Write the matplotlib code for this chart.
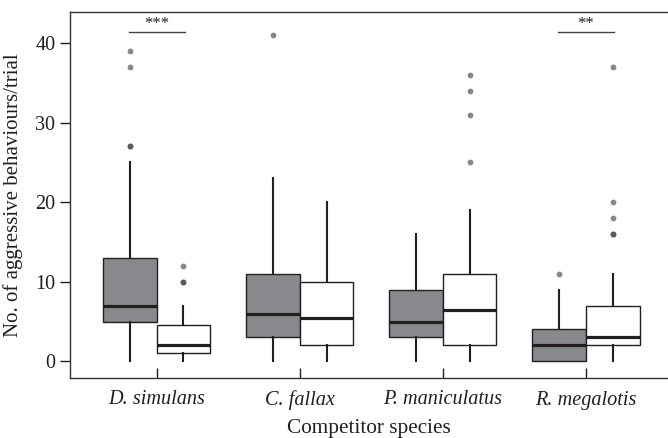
import numpy as np
import matplotlib.pyplot as plt

plt.rcParams['font.family'] = ['Liberation Serif', 'DejaVu Serif']

# species and summary statistics
species = ['D. simulans', 'C. fallax', 'P. maniculatus', 'R. megalotis']

# grey boxes (first treatment)
grey_whislo = [0, 0, 0, 0]
grey_q1 = [5, 3, 3, 0]
grey_med = [7, 6, 5, 2]
grey_q3 = [13, 11, 9, 4]
grey_whishi = [25, 23, 16, 9]
grey_fliers = [[27, 27, 37, 39], [41], [], [11]]

# white boxes (second treatment)
white_whislo = [0, 0, 0, 0]
white_q1 = [1, 2, 2, 2]
white_med = [2, 5.5, 6.5, 3]
white_q3 = [4.5, 10, 11, 7]
white_whishi = [7, 20, 19, 11]
white_fliers = [[10, 10, 12], [], [25, 31, 34, 36], [16, 16, 18, 20, 37]]

# significance marks: (species index, label)
signif = [(0, '***'), (3, '**')]

line_col = '#231f20'
grey_fill = '#88898c'

def make_stats(lo, q1, med, q3, hi, fl):
    out = []
    for i in range(len(lo)):
        out.append(dict(whislo=lo[i], q1=q1[i], med=med[i], q3=q3[i],
                        whishi=hi[i], fliers=fl[i]))
    return out

fig = plt.figure(figsize=(6.68, 4.38), dpi=100)
ax = fig.add_axes([70 / 668, 1 - 378 / 438, 598 / 668, 366 / 438])

pos = np.arange(len(species))
off = 0.187
width = 0.374

common = dict(widths=width, patch_artist=True, showcaps=False,
              whiskerprops=dict(color=line_col, linewidth=1.5),
              medianprops=dict(color=line_col, linewidth=2.3),
              flierprops=dict(marker='o', markersize=4.2, markerfacecolor='#3f3f3f',
                              markeredgecolor='none', alpha=0.62))

ax.bxp(make_stats(grey_whislo, grey_q1, grey_med, grey_q3, grey_whishi, grey_fliers),
       positions=pos - off,
       boxprops=dict(facecolor=grey_fill, edgecolor=line_col, linewidth=1.0),
       **common)
ax.bxp(make_stats(white_whislo, white_q1, white_med, white_q3, white_whishi, white_fliers),
       positions=pos + off,
       boxprops=dict(facecolor='white', edgecolor=line_col, linewidth=1.0),
       **common)

for i, lab in signif:
    ax.plot([i - off - 0.01, i + off + 0.01], [41.4, 41.4], color='#444444', linewidth=1.0)
    ax.text(i, 41.9, lab, ha='center', va='baseline', fontsize=12, color=line_col)

ax.set_xlim(-0.606, 3.573)
ax.set_ylim(-2.1, 43.9)
ax.set_xticks(pos)
ax.set_xticklabels(species, fontstyle='italic', fontsize=14.6)
ax.set_yticks([0, 10, 20, 30, 40])
ax.tick_params(axis='y', direction='out', length=7, width=1, colors=line_col, labelsize=14.5)
ax.tick_params(axis='x', direction='in', length=7, width=1, colors=line_col, pad=9)
for lab in ax.get_xticklabels() + ax.get_yticklabels():
    lab.set_color(line_col)
ax.set_xlabel('Competitor species', fontsize=15.3, color=line_col, labelpad=6)
ax.set_ylabel('No. of aggressive behaviours/trial', fontsize=15, color=line_col)
ax.yaxis.set_label_coords(-0.0786, 0.5)

for s in ['left', 'bottom', 'top']:
    ax.spines[s].set_color('#333333')
    ax.spines[s].set_linewidth(1.0)
ax.spines['right'].set_visible(False)

fig.savefig('out.png', dpi=100)
